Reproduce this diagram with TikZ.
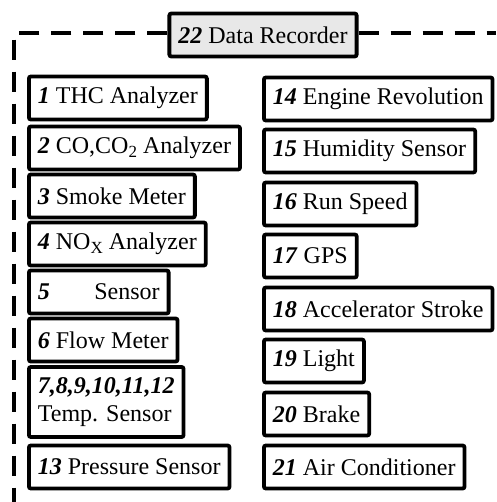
\documentclass[tikz,border=0pt]{standalone}
\usepackage{fontspec}
\setmainfont{Liberation Serif}
\usetikzlibrary{positioning}
\colorlet{recgray}{gray!18}
\newcommand\nr[1]{\textbf{\textit{#1}}}
\newcommand\sub[1]{\raisebox{-0.3ex}{\fontsize{17}{17}\selectfont #1}}

\begin{document}
\begin{tikzpicture}[x=1pt,y=-1pt,
        dev/.style={draw,line width=3.8pt,rounded corners=2pt,fill=white,anchor=west,
          minimum height=43pt,inner xsep=9pt,font=\fontsize{24}{28}\selectfont},
        frame/.style={line width=4pt,dash pattern=on 20pt off 12pt}]%
        \useasboundingbox (0,0) rectangle (496,502);%%
        \node[dev,fill=recgray,anchor=center] (rec) at (263,35) {\nr{22} Data Recorder}; %%
        \coordinate (ctl) at (14,33); %%
        \coordinate (cbl) at (14,502); %%
        \coordinate (ctr) at (496,33); %%
        \draw[frame] (rec.west|-ctl)--(ctl)--(cbl); %%
        \draw[frame] (rec.east|-ctr)--(ctr); %%
        % left column
        \node[dev] (d1) at (27,98)  {\nr{1} THC Analyzer}; %%
        \node[dev] (d2) at (27,148)  {\nr{2} CO,CO\sub{2} Analyzer}; %%
        \node[dev] (d3) at (27,196)  {\nr{3} Smoke Meter}; %%
        \node[dev] (d4) at (27,244)  {\nr{4} NO\sub{X} Analyzer}; %%
        \node[dev] (d5) at (27,292)  {\nr{5}\hspace{1.6em} Sensor}; %%
        \node[dev] (d6) at (27,340)  {\nr{6} Flow Meter}; %%
        \node[dev,minimum height=70pt,align=left] (d7) at (27,402)  {\nr{7,8,9,10,11,12}\\Temp. Sensor}; %%
        \node[dev] (d13) at (27,467)  {\nr{13} Pressure Sensor}; %%
        % right column
        \node[dev] (d14) at (262,99)  {\nr{14} Engine Revolution}; %%
        \node[dev] (d15) at (262,151)  {\nr{15} Humidity Sensor}; %%
        \node[dev] (d16) at (262,204)  {\nr{16} Run Speed}; %%
        \node[dev] (d17) at (262,256)  {\nr{17} GPS}; %%
        \node[dev] (d18) at (262,309)  {\nr{18} Accelerator Stroke}; %%
        \node[dev] (d19) at (262,361)  {\nr{19} Light}; %%
        \node[dev] (d20) at (262,414)  {\nr{20} Brake}; %%
        \node[dev] (d21) at (262,467)  {\nr{21} Air Conditioner}; %%
        \end{tikzpicture}
\end{document}
